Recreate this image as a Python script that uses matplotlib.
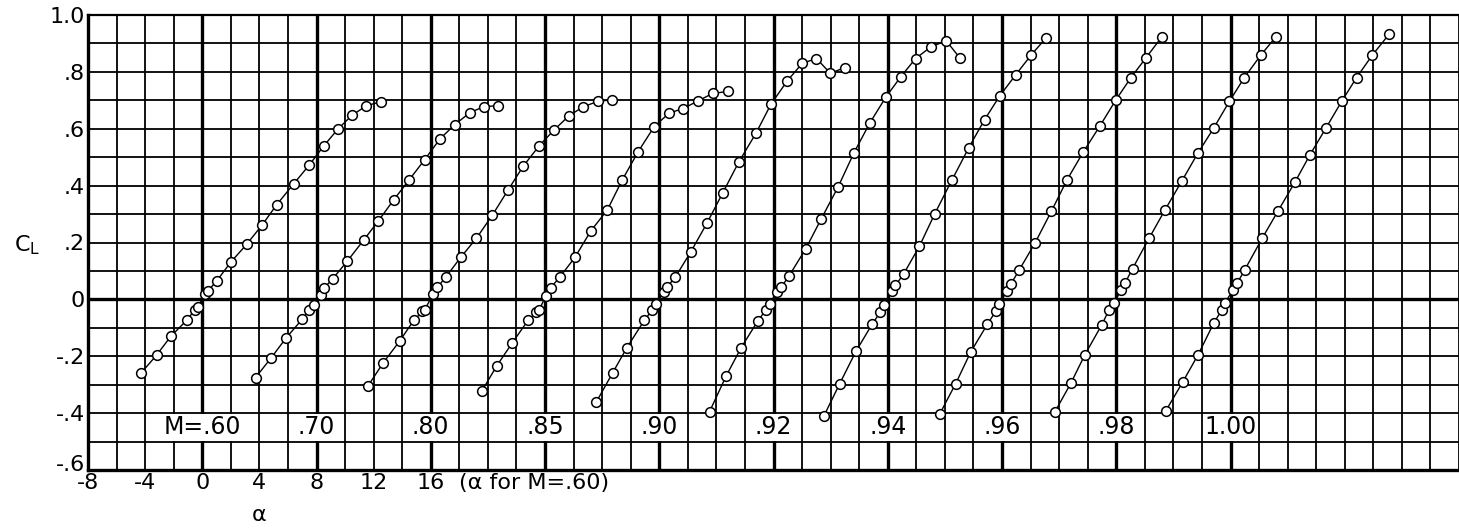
import numpy as np
import matplotlib
matplotlib.use("Agg")
import matplotlib.pyplot as plt
from matplotlib.transforms import ScaledTranslation

# Mach numbers and the alpha shift used to space the curves along the axis
mach_labels = ["M=.60", ".70", ".80", ".85", ".90", ".92", ".94", ".96", ".98", "1.00"]
alpha_shift = [0, 8, 16, 24, 32, 40, 48, 56, 64, 72]

# Angle of attack (deg) and lift coefficient, one pair per Mach number
alpha_060 = [-4.3, -3.2, -2.2, -1.1, -0.5, -0.3, 0.2, 0.4, 1.0, 2.0, 3.1, 4.2, 5.2, 6.4, 7.5, 8.5, 9.5, 10.5, 11.5, 12.5]
cl_060 = [-0.26, -0.196, -0.13, -0.074, -0.036, -0.026, 0.02, 0.03, 0.064, 0.131, 0.193, 0.262, 0.332, 0.406, 0.473, 0.539, 0.599, 0.648, 0.681, 0.695]

alpha_070 = [-4.27, -3.18, -2.12, -1.0, -0.54, -0.19, 0.33, 0.56, 1.14, 2.15, 3.31, 4.32, 5.42, 6.5, 7.57, 8.64, 9.67, 10.75, 11.73, 12.73]
cl_070 = [-0.275, -0.206, -0.135, -0.070, -0.039, -0.019, 0.016, 0.041, 0.073, 0.134, 0.209, 0.275, 0.351, 0.421, 0.491, 0.564, 0.614, 0.657, 0.678, 0.681]

alpha_080 = [-4.39, -3.34, -2.17, -1.19, -0.58, -0.42, 0.16, 0.47, 1.05, 2.10, 3.20, 4.30, 5.42, 6.47, 7.59, 8.64, 9.69, 10.67, 11.68, 12.7]
cl_080 = [-0.304, -0.224, -0.146, -0.074, -0.042, -0.036, 0.018, 0.043, 0.078, 0.148, 0.215, 0.295, 0.385, 0.468, 0.540, 0.596, 0.646, 0.677, 0.696, 0.702]

alpha_085 = [-4.43, -3.38, -2.28, -1.19, -0.6, -0.42, 0.05, 0.4, 1.03, 2.1, 3.2, 4.37, 5.42, 6.52, 7.64, 8.69, 9.67, 10.72, 11.73, 12.78]
cl_085 = [-0.323, -0.234, -0.152, -0.074, -0.045, -0.039, 0.012, 0.041, 0.078, 0.148, 0.240, 0.315, 0.421, 0.519, 0.607, 0.655, 0.671, 0.698, 0.724, 0.731]

alpha_090 = [-4.42, -3.27, -2.27, -1.05, -0.51, -0.23, 0.3, 0.54, 1.12, 2.22, 3.34, 4.44, 5.56, 6.78, 7.83, 8.96, 10.01, 11.01, 11.98, 12.99]
cl_090 = [-0.362, -0.259, -0.170, -0.074, -0.039, -0.015, 0.025, 0.043, 0.078, 0.168, 0.268, 0.374, 0.482, 0.585, 0.687, 0.768, 0.830, 0.847, 0.795, 0.815]

alpha_092 = [-4.48, -3.32, -2.27, -1.1, -0.56, -0.28, 0.26, 0.54, 1.07, 2.26, 3.34, 4.51, 5.63, 6.73, 7.85, 8.9, 9.95, 11.05, 12.1, 13.03]
cl_092 = [-0.395, -0.270, -0.170, -0.076, -0.039, -0.015, 0.026, 0.043, 0.081, 0.178, 0.283, 0.394, 0.515, 0.619, 0.710, 0.782, 0.847, 0.889, 0.909, 0.850]

alpha_094 = [-4.48, -3.36, -2.21, -1.1, -0.51, -0.28, 0.28, 0.54, 1.12, 2.22, 3.29, 4.51, 5.68, 6.78, 7.85, 8.95, 10.05, 11.1]
cl_094 = [-0.411, -0.296, -0.181, -0.088, -0.044, -0.019, 0.029, 0.049, 0.09, 0.187, 0.301, 0.421, 0.534, 0.632, 0.716, 0.789, 0.860, 0.920]

alpha_096 = [-4.37, -3.24, -2.19, -1.03, -0.44, -0.21, 0.33, 0.61, 1.19, 2.31, 3.46, 4.55, 5.7, 6.87, 7.97, 9.03, 10.09, 11.19]
cl_096 = [-0.404, -0.296, -0.185, -0.088, -0.042, -0.018, 0.030, 0.053, 0.102, 0.198, 0.310, 0.420, 0.519, 0.611, 0.701, 0.780, 0.850, 0.923]

alpha_098 = [-4.29, -3.17, -2.19, -1.03, -0.49, -0.14, 0.33, 0.6, 1.14, 2.31, 3.43, 4.58, 5.7, 6.82, 7.92, 8.97, 10.14, 11.19]
cl_098 = [-0.395, -0.294, -0.194, -0.091, -0.036, -0.013, 0.034, 0.056, 0.108, 0.216, 0.316, 0.415, 0.513, 0.602, 0.696, 0.780, 0.860, 0.924]

alpha_100 = [-4.53, -3.36, -2.26, -1.17, -0.63, -0.4, 0.19, 0.47, 1.0, 2.22, 3.34, 4.51, 5.56, 6.68, 7.78, 8.83, 9.93, 11.1]
cl_100 = [-0.392, -0.292, -0.194, -0.083, -0.039, -0.013, 0.034, 0.057, 0.104, 0.215, 0.312, 0.412, 0.508, 0.602, 0.696, 0.780, 0.859, 0.932]

alphas = [alpha_060, alpha_070, alpha_080, alpha_085, alpha_090,
          alpha_092, alpha_094, alpha_096, alpha_098, alpha_100]
cls = [cl_060, cl_070, cl_080, cl_085, cl_090,
       cl_092, cl_094, cl_096, cl_098, cl_100]

x_tick_vals = [-8, -4, 0, 4, 8, 12, 16]
x_tick_labels = ["-8", "-4", "0", "4", "8", "12", "16"]
y_tick_vals = [1.0, 0.8, 0.6, 0.4, 0.2, 0.0, -0.2, -0.4, -0.6]
y_tick_labels = ["1.0", ".8", ".6", ".4", ".2", "0", "-.2", "-.4", "-.6"]

FONT = "DejaVu Sans"
TICK_SIZE = 16


def draw_grid(ax):
    """Square graph paper: a line every 2 deg and every 0.1 CL."""
    for x in np.arange(-8, 89, 2):
        ax.axvline(x, color="black", lw=1.3, zorder=1)
    for y in np.arange(-0.6, 1.01, 0.1):
        ax.axhline(y, color="black", lw=1.3, zorder=1)
    # heavier reference lines
    ax.axhline(0, color="black", lw=2.4, zorder=1)
    for s in alpha_shift:
        ax.axvline(s, color="black", lw=2.4, zorder=1)


def main():
    fig = plt.figure(figsize=(14.59, 5.28), dpi=100)
    ax = fig.add_axes([88 / 1459, 58 / 528, 1371 / 1459, 455 / 528])

    draw_grid(ax)

    for a, c, s, lab in zip(alphas, cls, alpha_shift, mach_labels):
        ax.plot(np.array(a) + s, c, color="black", lw=1.0, marker="o",
                markersize=7, markerfacecolor="white", markeredgecolor="black",
                markeredgewidth=1.1, zorder=3)
        ax.text(s, -0.45, lab, ha="center", va="center", fontsize=17,
                family=FONT, zorder=4,
                bbox=dict(facecolor="white", edgecolor="none", pad=1.0))

    ax.set_xlim(-8, 88)
    ax.set_ylim(-0.6, 1.0)
    ax.set_xticks(x_tick_vals)
    ax.set_xticklabels(x_tick_labels, fontsize=TICK_SIZE, family=FONT)
    ax.set_yticks(y_tick_vals)
    ax.set_yticklabels(y_tick_labels, fontsize=TICK_SIZE, family=FONT)
    ax.tick_params(length=0, pad=2)

    # lift the bottom CL label a little so it clears the "-8" below it
    bottom_lab = ax.get_yticklabels()[-1]
    bottom_lab.set_transform(bottom_lab.get_transform()
                             + ScaledTranslation(0, 5 / 72, fig.dpi_scale_trans))

    for side in ["left", "bottom"]:
        ax.spines[side].set_linewidth(2.4)
    ax.spines["top"].set_linewidth(1.6)
    ax.spines["right"].set_visible(False)

    ax.text(18.0, -0.612, "(\u03b1 for M=.60)", ha="left", va="top",
            fontsize=TICK_SIZE, family=FONT)
    fig.text(259 / 1459, 1 - 515 / 528, "\u03b1", ha="center", va="center",
             fontsize=TICK_SIZE, family=FONT)
    fig.text(27 / 1459, 1 - 245 / 528, "C$_{\\mathregular{L}}$", ha="center",
             va="center", fontsize=TICK_SIZE, family=FONT)

    fig.savefig("out.png", dpi=100)


if __name__ == "__main__":
    main()
